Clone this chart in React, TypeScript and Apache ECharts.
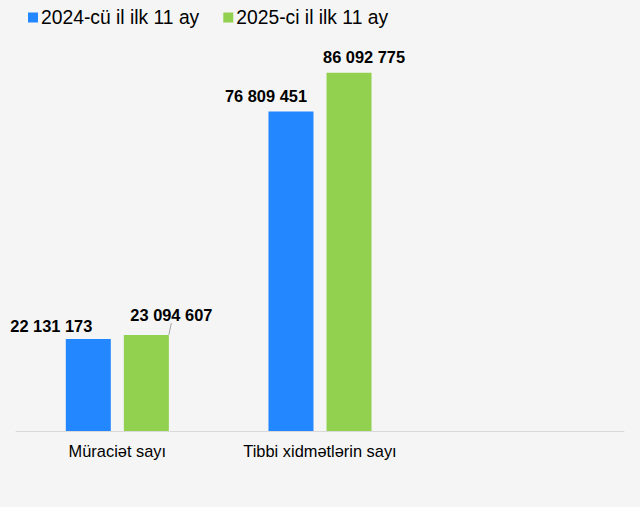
import React, { useEffect, useRef } from "react";
import * as echarts from "echarts";

const categories = ["Müraciət sayı", "Tibbi xidmətlərin sayı", ""];
const seriesNames = ["2024-cü il ilk 11 ay", "2025-ci il ilk 11 ay"];
const values2024 = [22131173, 76809451];
const values2025 = [23094607, 86092775];

const labelShift2024 = [[-37, 0], [-25, -2]];
const labelShift2025 = [[25, -7], [15, -3]];

const fmt = (v: number) => String(v).replace(/\B(?=(\d{3})+(?!\d))/g, " ");

export default function App() {
  const ref = useRef<HTMLDivElement>(null);
  useEffect(() => {
    if (!ref.current) return;
    const chart = echarts.init(ref.current, undefined, { renderer: "svg" });
    const labelStyle = {
      show: true,
      position: "top",
      distance: 5,
      color: "#000",
      fontFamily: "Arial, 'Liberation Sans', sans-serif",
      fontWeight: "bold",
      fontSize: 16.4,
      formatter: (p: any) => fmt(p.value),
    };
    chart.setOption({
      animation: false,
      backgroundColor: "#f5f5f5",
      textStyle: { fontFamily: "Arial, 'Liberation Sans', sans-serif" },
      legend: {
        left: 28,
        top: 8,
        padding: 0,
        itemWidth: 10,
        itemHeight: 10,
        itemGap: 24,
        icon: "rect",
        textStyle: { fontSize: 19.3, color: "#000", padding: [0, 0, 0, -2] },
        data: seriesNames,
      },
      grid: { left: 16, right: 16, top: 15, bottom: 76, containLabel: false },
      xAxis: {
        type: "category",
        data: categories,
        axisLine: { lineStyle: { color: "#d9d9d9", width: 1 } },
        axisTick: { show: false },
        axisLabel: { color: "#000", fontSize: 16.4, margin: 12 },
      },
      yAxis: {
        type: "value",
        min: 0,
        max: 100000000,
        show: false,
        splitLine: { show: false },
      },
      series: [
        {
          name: seriesNames[0],
          type: "bar",
          barWidth: 45,
          barGap: "29%",
          itemStyle: { color: "#2388ff" },
          label: labelStyle,
          labelLayout: (p: any) => ({
            dx: labelShift2024[p.dataIndex][0],
            dy: labelShift2024[p.dataIndex][1],
          }),
          data: values2024,
        },
        {
          name: seriesNames[1],
          type: "bar",
          barWidth: 45,
          barGap: "29%",
          itemStyle: { color: "#92d050" },
          label: labelStyle,
          labelLine: { show: false, lineStyle: { color: "#a6a6a6", width: 1 } },
          labelLayout: (p: any) => ({
            dx: labelShift2025[p.dataIndex][0],
            dy: labelShift2025[p.dataIndex][1],
          }),
          data: values2025.map((v, i) =>
            i === 0
              ? { value: v, labelLine: { show: true, lineStyle: { color: "#a6a6a6", width: 1 } } }
              : { value: v }
          ),
        },
      ],
    });
    return () => chart.dispose();
  }, []);
  return (
    <div
      ref={ref}
      style={{ position: "fixed", left: 0, top: 0, width: 640, height: 507 }}
    />
  );
}
